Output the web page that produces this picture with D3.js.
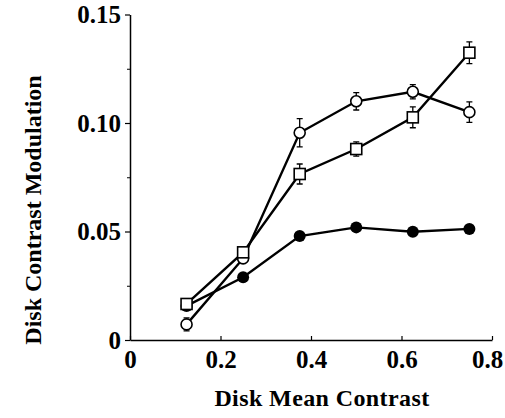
<!DOCTYPE html>
<html>
<head>
<meta charset="utf-8">
<script src="https://cdn.jsdelivr.net/npm/d3@7"></script>
<style>
  html, body { margin: 0; padding: 0; background: #fff; }
  svg { display: block; }
  text { font-family: "Liberation Serif", "Times New Roman", serif; font-weight: bold; fill: #000; }
</style>
</head>
<body>
<svg id="chart" width="505" height="418"></svg>
<script>
// Disk mean contrast levels (x)
const contrast = [0.125, 0.25, 0.375, 0.5, 0.625, 0.75];

// Disk contrast modulation for the three conditions, with standard errors
const openCircle = [0.0072, 0.0376, 0.0955, 0.110, 0.1144, 0.105];
const openCircleErr = [0.0030, 0.0015, 0.0065, 0.0040, 0.0033, 0.0047];

const openSquare = [0.0166, 0.0404, 0.0765, 0.088, 0.1026, 0.1324];
const openSquareErr = [0.0015, 0.0015, 0.0046, 0.0033, 0.0048, 0.0050];

const filledCircle = [0.0157, 0.0289, 0.0479, 0.0519, 0.0499, 0.0512];

const xTicks = [0, 0.2, 0.4, 0.6, 0.8];
const xTickLabels = ["0", "0.2", "0.4", "0.6", "0.8"];
const yTicks = [0, 0.05, 0.10, 0.15];
const yTickLabels = ["0", "0.05", "0.10", "0.15"];
const yMinorTicks = [0.025, 0.075, 0.125];

const svg = d3.select("#chart");
const margin = { left: 130, right: 13, top: 14.5, bottom: 78 };
const W = 505, H = 418;

const x = d3.scaleLinear().domain([0, 0.8]).range([margin.left, W - margin.right]);
const y = d3.scaleLinear().domain([0, 0.15]).range([H - margin.bottom, margin.top]);

// Axes
const xAxis = d3.axisBottom(x).tickValues(xTicks).tickFormat((d, i) => xTickLabels[i])
  .tickSizeInner(-4).tickSizeOuter(0).tickPadding(10);
const gx = svg.append("g").attr("transform", `translate(0,${y(0)})`).call(xAxis);
gx.select(".domain").attr("stroke-width", 1.5);
gx.selectAll(".tick line").attr("stroke-width", 1.2);
gx.selectAll(".tick text").attr("font-size", 25).attr("dy", "0.7em")
  .attr("dx", d => d === 0.8 ? -5 : 0);

const yAxis = d3.axisLeft(y).tickValues(yTicks).tickFormat((d, i) => yTickLabels[i])
  .tickSizeInner(5).tickSizeOuter(0).tickPadding(4);
const gy = svg.append("g").attr("transform", `translate(${x(0)},0)`).call(yAxis);
gy.select(".domain").attr("stroke-width", 1.5);
gy.selectAll(".tick line").attr("stroke-width", 1.2);
gy.selectAll(".tick text").attr("font-size", 25);

const yMinor = d3.axisLeft(y).tickValues(yMinorTicks).tickFormat("").tickSizeInner(3).tickSizeOuter(0);
const gym = svg.append("g").attr("transform", `translate(${x(0)},0)`).call(yMinor);
gym.select(".domain").remove();

// Axis titles
svg.append("text")
  .attr("x", 322).attr("y", 406)
  .attr("text-anchor", "middle").attr("font-size", 24)
  .attr("letter-spacing", 0.4)
  .text("Disk Mean Contrast");

svg.append("text")
  .attr("transform", `translate(41,210) rotate(-90)`)
  .attr("text-anchor", "middle").attr("font-size", 24)
  .text("Disk Contrast Modulation");

const line = d3.line().x((d, i) => x(contrast[i])).y(d => y(d));
const plot = svg.append("g");

function drawLine(values) {
  plot.append("path").datum(values)
    .attr("d", line).attr("fill", "none").attr("stroke", "#000").attr("stroke-width", 2.4);
}

function drawErr(values, errs) {
  const cap = 3;
  plot.selectAll(null).data(values).enter().append("path")
    .attr("d", (d, i) => {
      const cx = x(contrast[i]), t = y(d + errs[i]), b = y(d - errs[i]);
      return `M${cx},${t}V${b}M${cx - cap},${t}H${cx + cap}M${cx - cap},${b}H${cx + cap}`;
    })
    .attr("stroke", "#000").attr("stroke-width", 1.3).attr("fill", "none");
}

// Filled circles
drawLine(filledCircle);
plot.selectAll(null).data(filledCircle).enter().append("circle")
  .attr("cx", (d, i) => x(contrast[i])).attr("cy", d => y(d)).attr("r", 6)
  .attr("fill", "#000");

// Open circles
drawLine(openCircle);
drawErr(openCircle, openCircleErr);
plot.selectAll(null).data(openCircle).enter().append("circle")
  .attr("cx", (d, i) => x(contrast[i])).attr("cy", d => y(d)).attr("r", 5.5)
  .attr("fill", "#fff").attr("stroke", "#000").attr("stroke-width", 1.6);

// Open squares
drawLine(openSquare);
drawErr(openSquare, openSquareErr);
const s = 11;
plot.selectAll(null).data(openSquare).enter().append("rect")
  .attr("x", (d, i) => x(contrast[i]) - s / 2).attr("y", d => y(d) - s / 2)
  .attr("width", s).attr("height", s)
  .attr("fill", "#fff").attr("stroke", "#000").attr("stroke-width", 1.6);
</script>
</body>
</html>
